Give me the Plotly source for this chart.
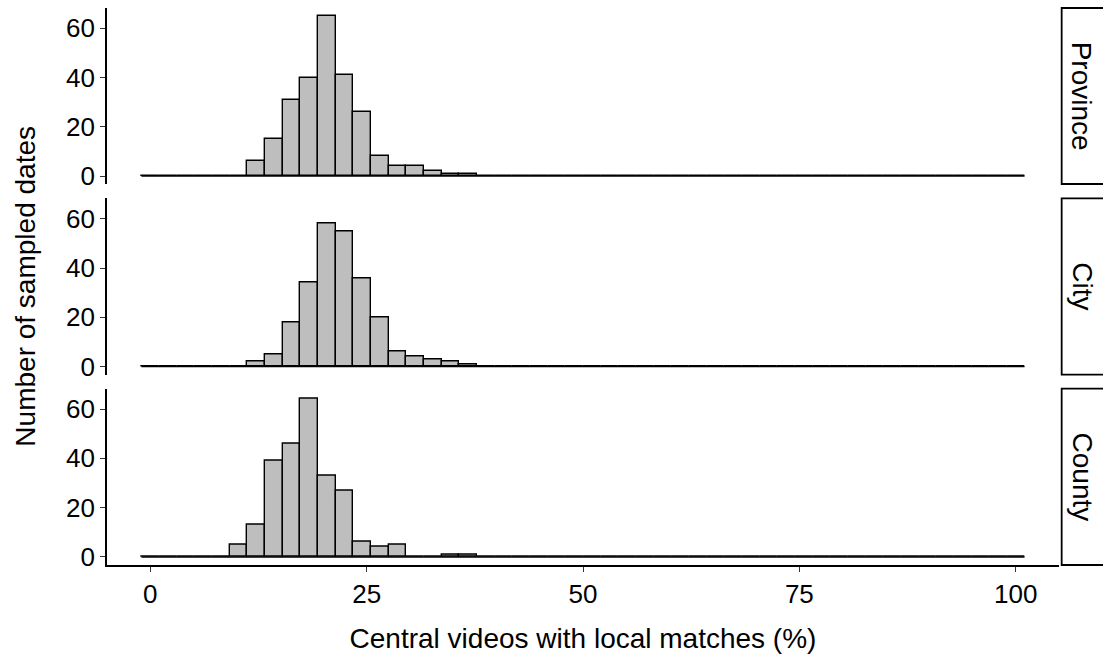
import plotly.graph_objects as go

# Histogram setup: 50 bins spanning 0..100, centred on 0 and 100
n_bins = 50
x_min, x_max = 0.0, 100.0
first_bin = 5  # index of the first bin listed below

facets = ["Province", "City", "County"]
province_counts = [0, 6, 15, 31, 40, 65, 41, 26, 8, 4, 4, 2, 1, 1]
city_counts = [0, 2, 5, 18, 34, 58, 55, 36, 20, 6, 4, 3, 2, 1]
county_counts = [5, 13, 39, 46, 64, 33, 27, 6, 4, 5, 0, 0, 1, 1]

x_ticks = [0, 25, 50, 75, 100]
y_ticks = [0, 20, 40, 60]

binwidth = (x_max - x_min) / (n_bins - 1)
centers = [x_min + i * binwidth for i in range(n_bins)]


def full_counts(counts):
    out = [0] * n_bins
    for i, c in enumerate(counts):
        out[first_bin + i] = c
    return out


all_counts = [full_counts(c) for c in (province_counts, city_counts, county_counts)]
y_top = max(max(c) for c in all_counts)
y_pad = 0.05 * y_top

FONT = "Liberation Sans, Arial, Helvetica, sans-serif"
TICK_SIZE = 26
TITLE_SIZE = 28
domains = [[0.684, 1.0], [0.3417, 0.6582], [0.0, 0.3165]]

fig = go.Figure()
for k, (name, counts) in enumerate(zip(facets, all_counts)):
    ax = "" if k == 0 else str(k + 1)
    fig.add_trace(go.Bar(
        x=centers, y=counts, width=binwidth,
        marker=dict(color="#BEBEBE", line=dict(color="black", width=1.4)),
        xaxis="x" + ax, yaxis="y" + ax, showlegend=False,
    ))
    # flat outline across empty bins
    fig.add_trace(go.Scatter(
        x=[centers[0] - binwidth / 2, centers[-1] + binwidth / 2], y=[0, 0],
        mode="lines", line=dict(color="black", width=1.4),
        xaxis="x" + ax, yaxis="y" + ax, showlegend=False, hoverinfo="skip",
    ))

    bottom = k == len(facets) - 1
    fig.update_layout(**{
        "xaxis" + ax: dict(
            domain=[0, 1], anchor="y" + ax, range=[-5, 105],
            tickvals=x_ticks if bottom else [], ticks="outside" if bottom else "",
            ticklen=5, tickwidth=1.4, tickcolor="#333333",
            showline=bottom, linecolor="black", linewidth=1.8,
            showgrid=False, zeroline=False, showticklabels=bottom,
            tickfont=dict(family=FONT, size=TICK_SIZE, color="black"),
            matches=None if k == 0 else "x", automargin=False,
            title=dict(text="Central videos with local matches (%)",
                       font=dict(family=FONT, size=TITLE_SIZE, color="black"),
                       standoff=20) if bottom else None,
        ),
        "yaxis" + ax: dict(
            domain=domains[k], anchor="x" + ax, range=[-y_pad, y_top + y_pad],
            tickvals=y_ticks, ticks="outside", ticklen=5, tickwidth=1.4,
            tickcolor="#333333", showline=True, linecolor="black", linewidth=1.8,
            showgrid=False, zeroline=False, automargin=False,
            tickfont=dict(family=FONT, size=TICK_SIZE, color="black"),
        ),
    })
    # facet strip on the right
    fig.add_shape(type="rect", xref="paper", yref="paper",
                  x0=1.0028, x1=1.06, y0=domains[k][0], y1=domains[k][1],
                  line=dict(color="black", width=1.8), fillcolor="white")
    fig.add_annotation(text=name, xref="paper", yref="paper",
                       x=1.0245, y=sum(domains[k]) / 2,
                       xanchor="center", yanchor="middle", showarrow=False,
                       textangle=90,
                       font=dict(family=FONT, size=TITLE_SIZE, color="black"))

fig.add_annotation(text="Number of sampled dates", xref="paper", yref="paper",
                   x=-0.086, y=0.5, xanchor="center", yanchor="middle",
                   showarrow=False, textangle=-90,
                   font=dict(family=FONT, size=TITLE_SIZE, color="black"))

fig.update_layout(
    width=1103, height=655,
    margin=dict(l=107, r=44, t=8, b=90),
    plot_bgcolor="white", paper_bgcolor="white",
    bargap=0, barmode="overlay",
)

fig.write_html("out.html")
